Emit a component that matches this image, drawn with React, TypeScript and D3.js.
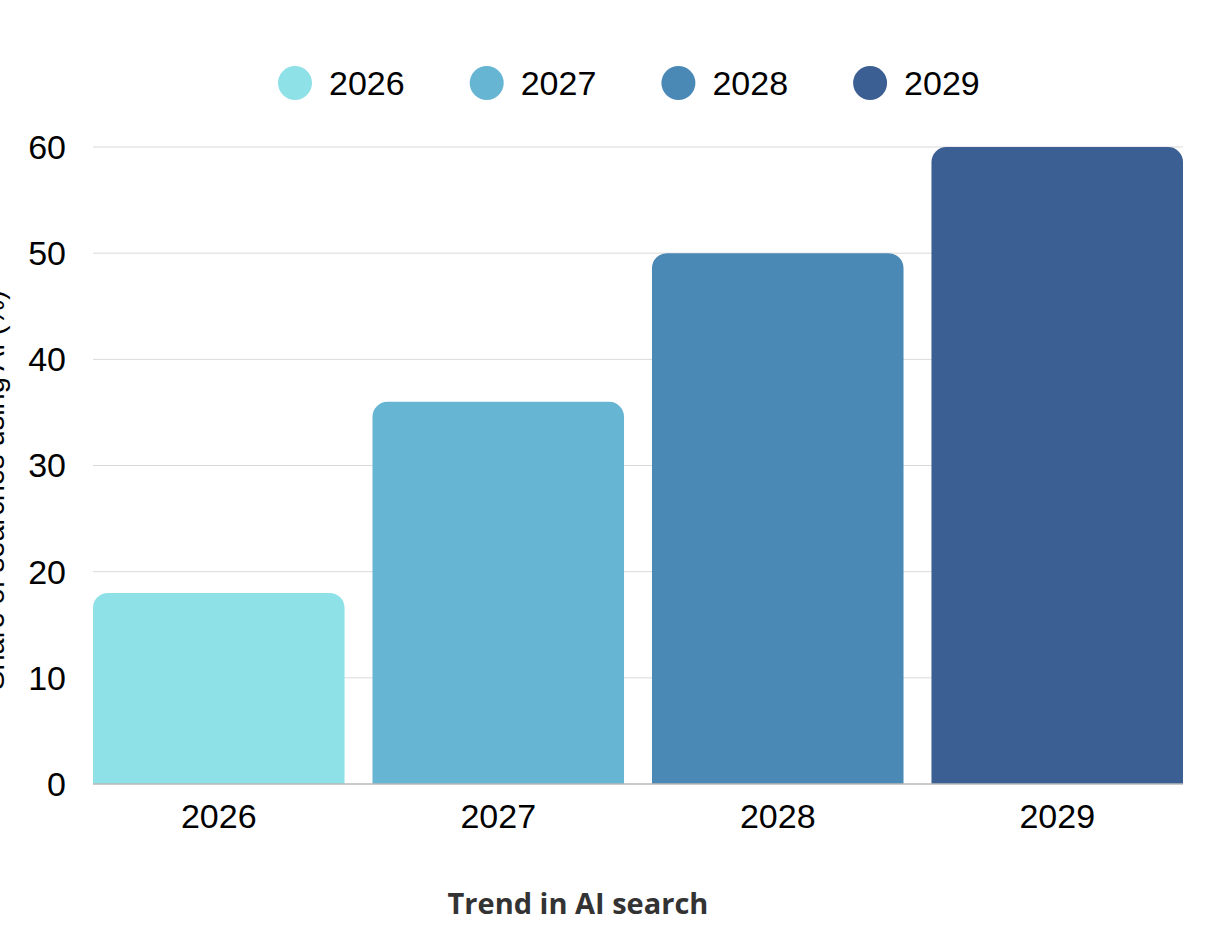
import React from "react";
import * as d3 from "d3";

const categories = ["2026", "2027", "2028", "2029"];
const values = [18, 36, 50, 60];
const colors = ["#8EE1E7", "#66B5D3", "#4A89B5", "#3C5F93"];
const yTicks = [0, 10, 20, 30, 40, 50, 60];
const xTitle = "Trend in AI search";
const yTitle = "Share of searches using AI (%)";

const W = 1214;
const H = 938;
const m = { left: 93, right: 1183, top: 147, bottom: 784 };

function topRoundedRect(x: number, y: number, w: number, h: number, r: number) {
  const rr = Math.min(r, h, w / 2);
  const p = d3.path();
  p.moveTo(x, y + h);
  p.lineTo(x, y + rr);
  p.arcTo(x, y, x + rr, y, rr);
  p.lineTo(x + w - rr, y);
  p.arcTo(x + w, y, x + w, y + rr, rr);
  p.lineTo(x + w, y + h);
  p.closePath();
  return p.toString();
}

export default function App() {
  const x = d3.scaleBand<string>().domain(categories).range([m.left, m.right]).paddingInner(0.1).paddingOuter(0);
  const y = d3.scaleLinear().domain([0, 60]).range([m.bottom, m.top]);
  const font = "'Liberation Sans', Arial, sans-serif";
  return (
    <svg width={W} height={H} style={{ position: "absolute", left: 0, top: 0, background: "#fff" }}>
      {yTicks.map((t) => (
        <g key={t}>
          {t > 0 && <line x1={m.left} x2={m.right} y1={y(t)} y2={y(t)} stroke="#d9d9d9" strokeWidth={1} />}
          <text x={66} y={y(t)} dy="0.35em" textAnchor="end" fontFamily={font} fontSize={34} fill="#000">{t}</text>
        </g>
      ))}
      {categories.map((c, i) => (
        <path key={c} d={topRoundedRect(x(c)!, y(values[i]), x.bandwidth(), y(0) - y(values[i]), 15)} fill={colors[i]} />
      ))}
      <line x1={m.left} x2={m.right} y1={y(0)} y2={y(0)} stroke="#b8b8b8" strokeWidth={1.5} />
      {categories.map((c) => (
        <text key={c} x={x(c)! + x.bandwidth() / 2} y={816} dy="0.35em" textAnchor="middle" fontFamily={font} fontSize={34} fill="#000">{c}</text>
      ))}
      {categories.map((c, i) => (
        <g key={c} transform={`translate(${295 + i * 191.7},83)`}>
          <circle r={17} fill={colors[i]} />
          <text x={34} dy="0.35em" fontFamily={font} fontSize={34} fill="#000">{c}</text>
        </g>
      ))}
      <text x={578} y={904} dy="0.35em" textAnchor="middle" fontFamily="'Open Sans', 'Noto Sans', sans-serif" fontWeight="bold" fontSize={29} fill="#333">{xTitle}</text>
      <text transform={`translate(4,490) rotate(-90)`} textAnchor="middle" fontFamily={font} fontSize={29} fill="#000">{yTitle}</text>
    </svg>
  );
}
